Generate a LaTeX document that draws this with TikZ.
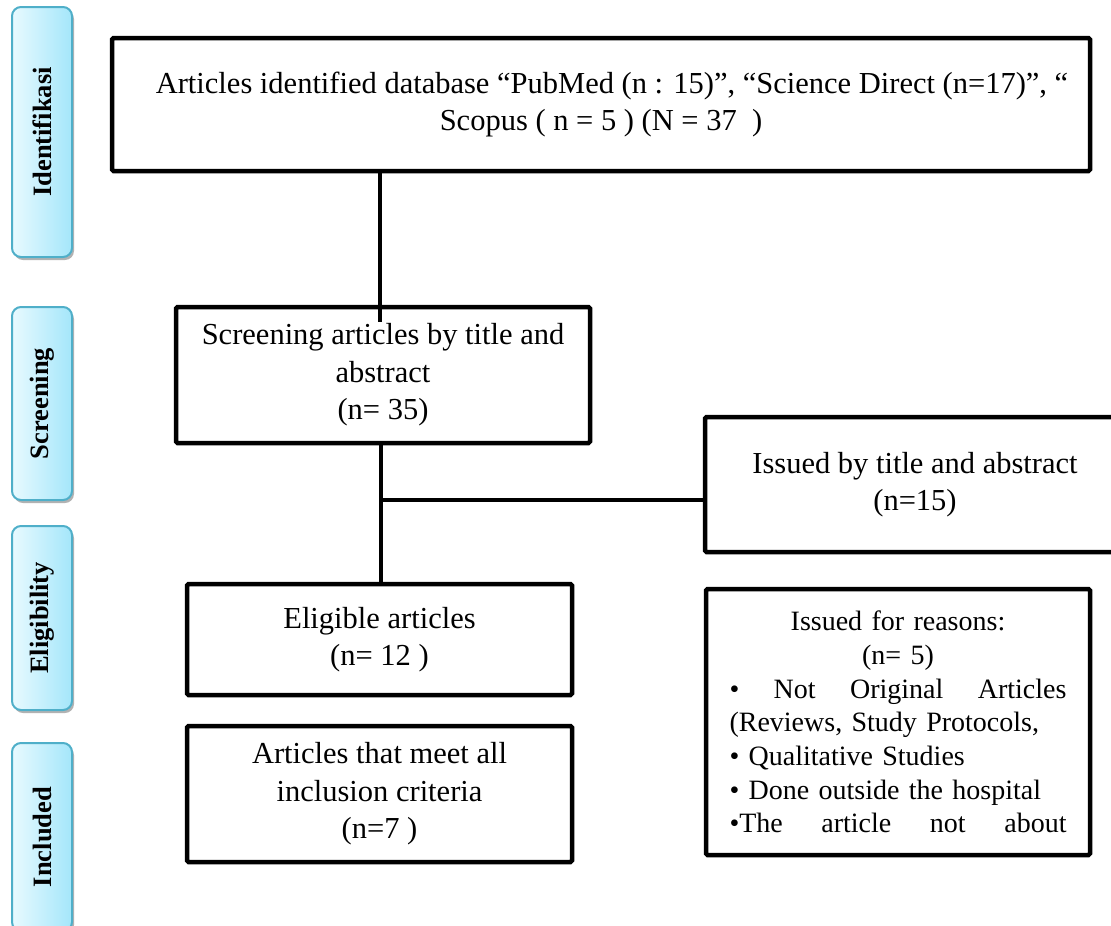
\documentclass[tikz,border=0pt]{standalone}
\usepackage{fontspec}
\setmainfont{Liberation Serif}
\usetikzlibrary{shadows}
\definecolor{tabL}{HTML}{E8FAFF}
\definecolor{tabR}{HTML}{A4E6FA}
\definecolor{tabB}{HTML}{4FAFC9}
\begin{document}
\begin{tikzpicture}[x=1pt,y=-1pt,
  box/.style={draw=black, line width=4.5pt, rounded corners=1.5pt, inner sep=0pt,
    font=\fontsize{30.5}{37.5}\selectfont, align=center},
  conn/.style={draw=black, line width=3.5pt},
  tab/.style={draw=tabB, line width=2pt, rounded corners=9pt, left color=tabL, right color=tabR,
    minimum width=60pt, inner sep=0pt,
    drop shadow={shadow xshift=2pt, shadow yshift=-3pt, fill=black, opacity=0.3},
    font=\fontsize{26.5}{30}\selectfont\bfseries}]
\useasboundingbox (0,0) rectangle (1111,926);
\clip (0,0) rectangle (1111,926);

% stage tabs
\node[tab, minimum height=250pt] (tabI) at (42,132) {\rotatebox{90}{Identifikasi}};
\node[tab, minimum height=193pt] (tabS) at (42,403.5) {\rotatebox{90}{Screening}};
\node[tab, minimum height=184pt] (tabE) at (42,618) {\rotatebox{90}{Eligibility}};
\node[tab, minimum height=188pt] (tabN) at (42,837) {\rotatebox{90}{Included}};

% boxes
\node[box, minimum width=978pt, minimum height=133pt] (b1) at (601,104.5)
  {\hspace*{22pt}Articles identified database “PubMed (n : 15)”, “Science Direct (n=17)”, “\\
   Scopus ( n = 5 ) (N = 37\ \ )};
\node[box, minimum width=414pt, minimum height=136pt] (b2) at (383,375)
  {Screening articles by title and\\abstract\\(n= 35)};
\node[box, minimum width=420pt, minimum height=135pt] (b3) at (915,484.5)
  {Issued by title and abstract\\(n=15)};
\node[box, minimum width=385pt, minimum height=111pt] (b4) at (379.5,639.5)
  {Eligible articles\\(n= 12 )};
\node[box, minimum width=384pt, minimum height=266pt,
  font=\fontsize{28}{33.7}\selectfont, text width=337pt] (b5) at (898,722)
  {Issued for reasons:\\
   (n= 5)\\
   \makebox[337pt][l]{•\hfill Not\hfill Original\hfill Articles}\\
   \makebox[337pt][l]{(Reviews, Study Protocols,\hfill}\\
   \makebox[337pt][l]{• Qualitative Studies\hfill}\\
   \makebox[337pt][l]{• Done outside the hospital\hfill}\\
   \makebox[337pt][l]{•The\hfill article\hfill not\hfill about}};
\node[box, minimum width=385pt, minimum height=136pt] (b6) at (379.5,794)
  {Articles that meet all\\inclusion criteria\\(n=7 )};

% connectors
\coordinate (t1) at (380,322);
\draw[conn] (t1 |- b1.south) -- (t1);
\coordinate (t2) at (381,0);
\draw[conn] (t2 |- b2.south) -- (t2 |- b4.north);
\coordinate (j2) at (381,500);
\draw[conn] (j2) -- (j2 -| b3.west);
\end{tikzpicture}
\end{document}
